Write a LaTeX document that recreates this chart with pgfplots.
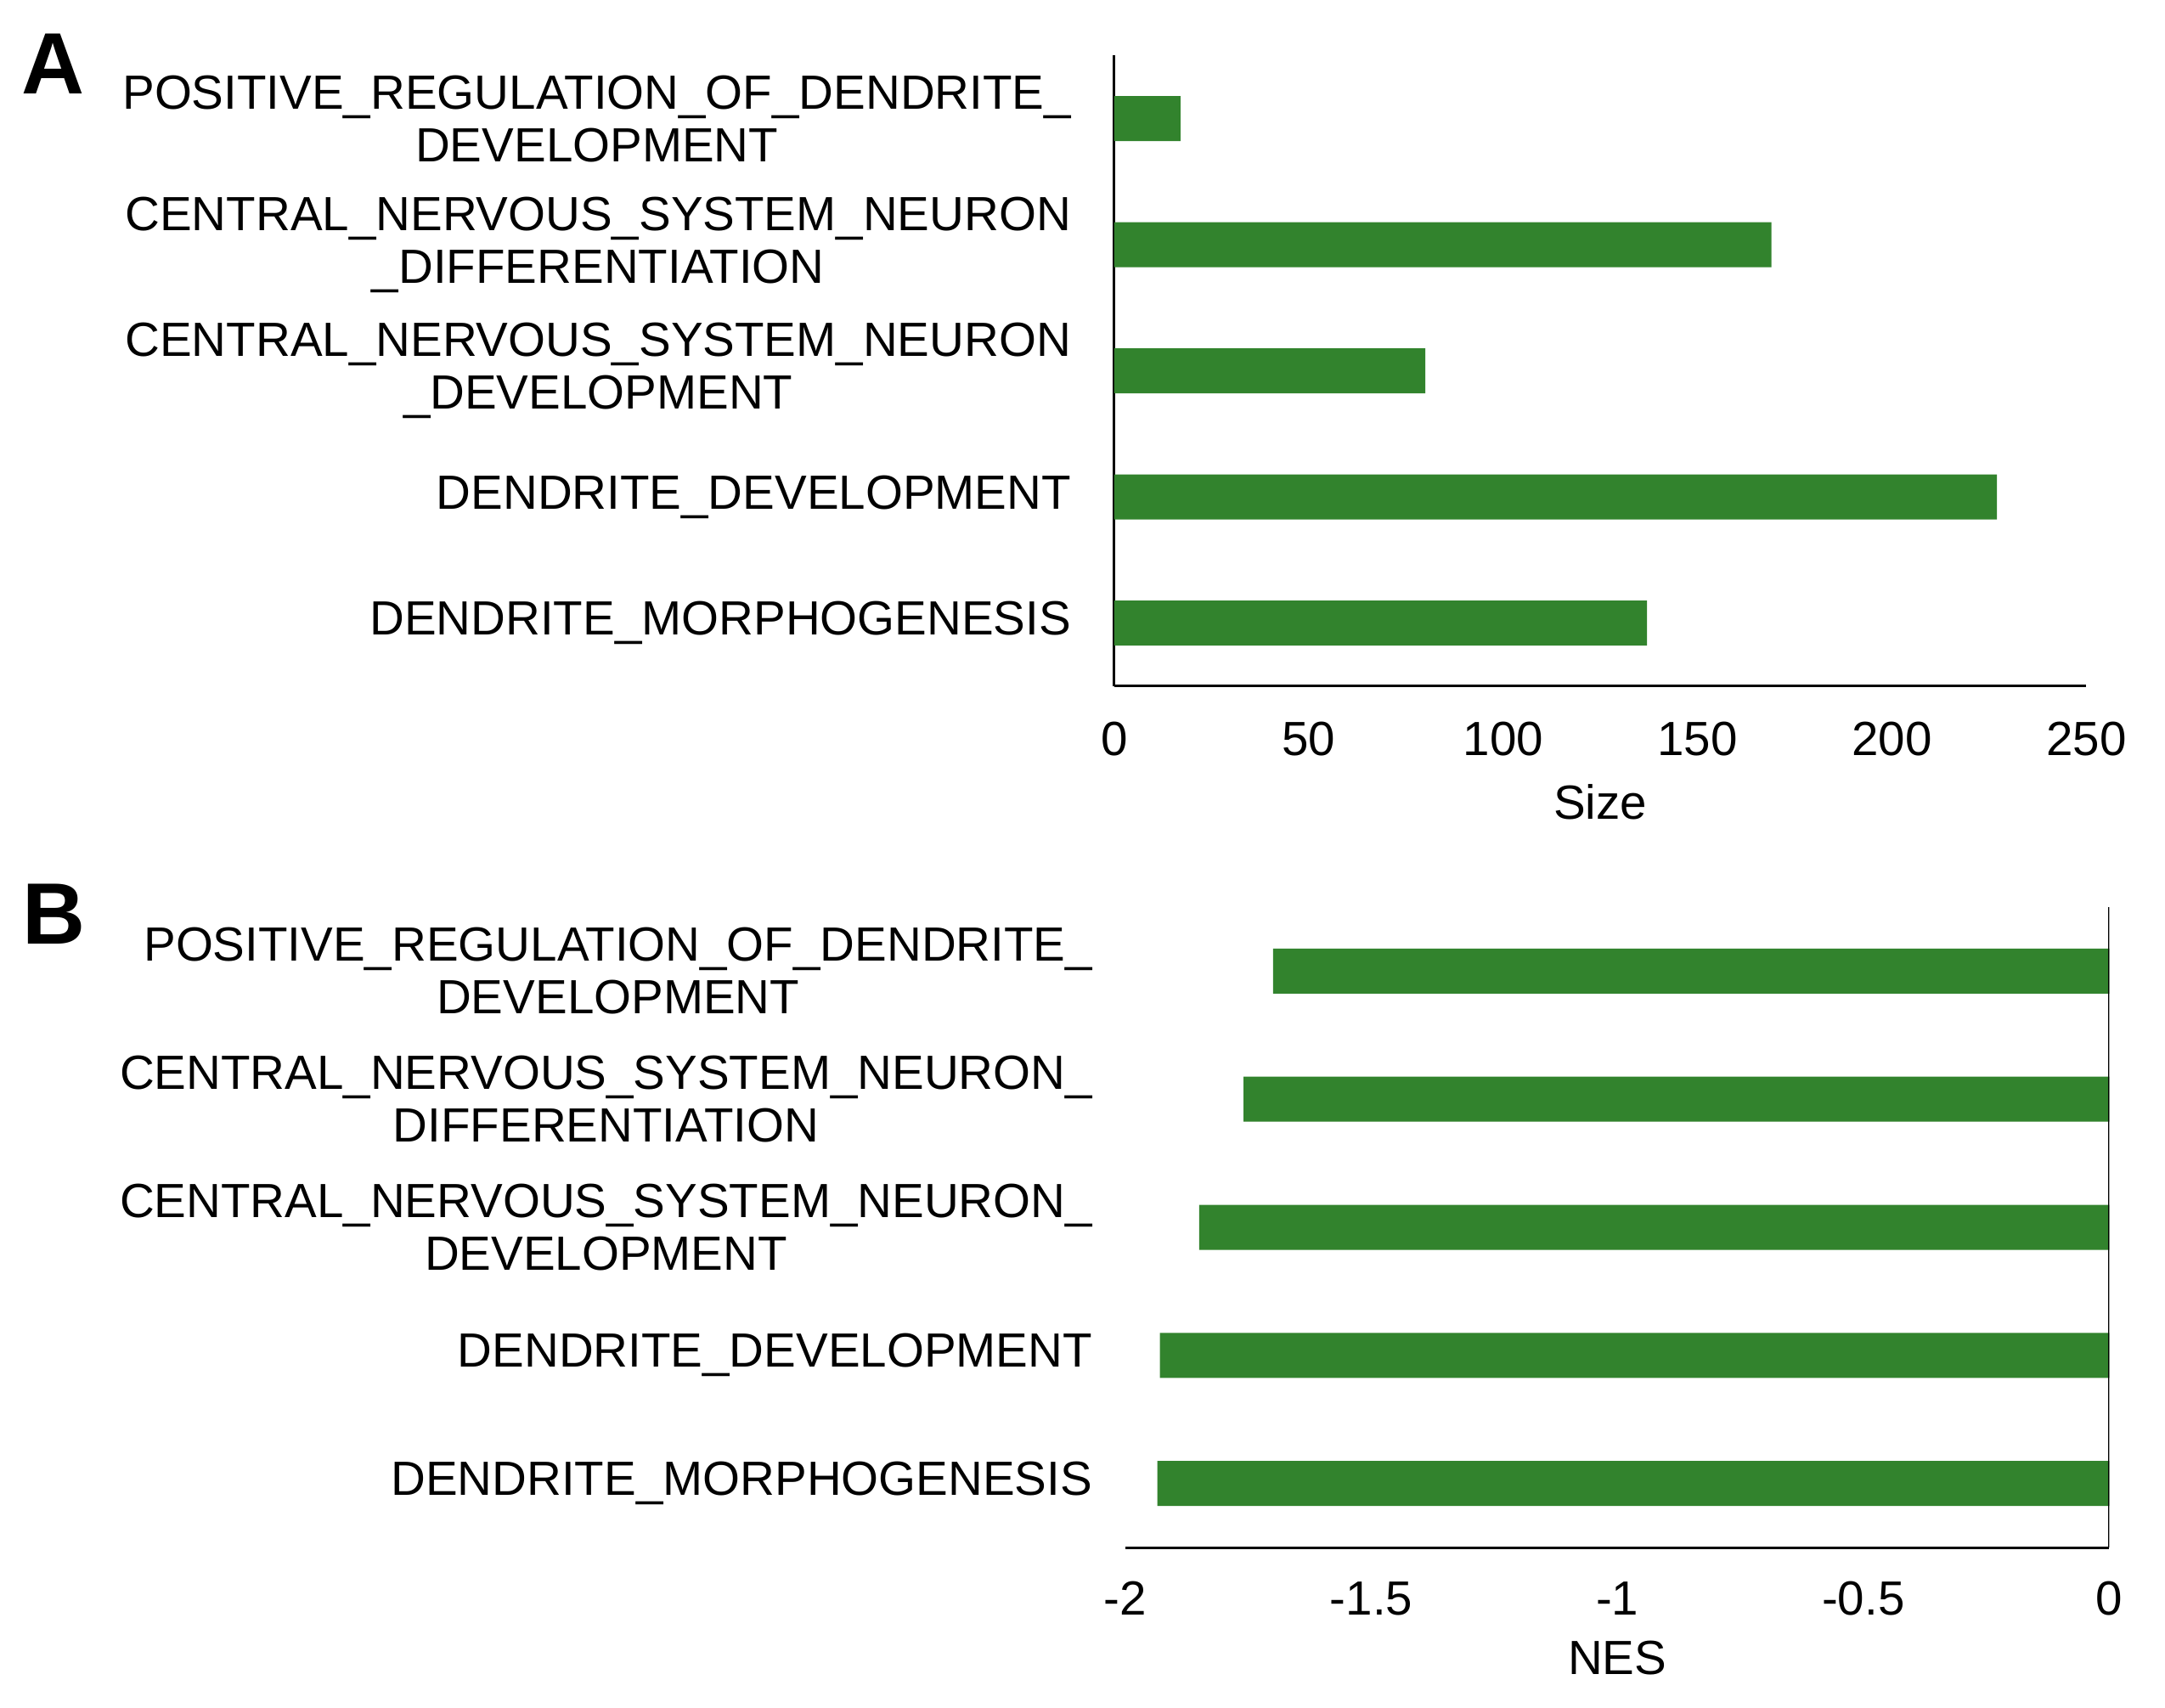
\documentclass[border=0pt]{standalone}
\usepackage{pgfplots}
\pgfplotsset{compat=1.18}
\usepackage{fontspec}
\setmainfont{Liberation Sans}
\definecolor{bargreen}{RGB}{50,131,45}

\begin{document}
\begin{tikzpicture}
\path[use as bounding box] (0pt,0pt) rectangle (509.8pt,402.2pt);
\pgfplotsset{
  gsea/.style={
    scale only axis,
    xbar,
    bar width=10.6pt,
    ymin=-0.5, ymax=4.5,
    ytick={0,1,2,3,4},
    tick style={draw=none},
    axis line style={-, line width=0.6pt, black},
    ticklabel style={font=\fontsize{11.3}{12.4}\selectfont},
    xticklabel style={yshift=-5.3pt},
    label style={font=\fontsize{11.3}{12.4}\selectfont},
    xlabel style={at={(axis description cs:0.5,0)}, anchor=center, yshift=-27.3pt},
  }
}

% panel A: gene set size
\begin{axis}[gsea,
  at={(262.4pt,240.6pt)}, anchor=south west,
  width=228.9pt, height=148.5pt,
  xmin=0, xmax=250,
  xtick={0,50,100,150,200,250},
  xticklabels={0,50,100,150,200,250},
  axis x line*=bottom, axis y line*=left,
  xlabel={Size},
  xticklabel style={yshift=0.5pt},
  yticklabels={
    {DENDRITE\_MORPHOGENESIS},
    {DENDRITE\_DEVELOPMENT},
    {CENTRAL\_NERVOUS\_SYSTEM\_NEURON\\\_DEVELOPMENT},
    {CENTRAL\_NERVOUS\_SYSTEM\_NEURON\\\_DIFFERENTIATION},
    {POSITIVE\_REGULATION\_OF\_DENDRITE\_\\DEVELOPMENT}},
  yticklabel style={align=center, anchor=east, xshift=-2.4pt},
]
\addplot[fill=bargreen, draw=none] coordinates {
  (137,0) (227,1) (80,2) (169,3) (17,4)
};
\end{axis}

% panel B: NES
\begin{axis}[gsea,
  at={(265pt,37.8pt)}, anchor=south west,
  width=231.7pt, height=150.8pt,
  xmin=-2, xmax=0,
  xtick={-2,-1.5,-1,-0.5,0},
  xticklabels={-2,-1.5,-1,-0.5,0},
  axis x line*=bottom,
  y axis line style={draw=none},
  xlabel={NES},
  xlabel style={yshift=1.3pt},
  xticklabel style={yshift=0.8pt},
  yticklabels={
    {DENDRITE\_MORPHOGENESIS},
    {DENDRITE\_DEVELOPMENT},
    {CENTRAL\_NERVOUS\_SYSTEM\_NEURON\_\\DEVELOPMENT},
    {CENTRAL\_NERVOUS\_SYSTEM\_NEURON\_\\DIFFERENTIATION},
    {POSITIVE\_REGULATION\_OF\_DENDRITE\_\\DEVELOPMENT}},
  yticklabel style={align=center, anchor=east, xshift=0pt},
]
\addplot[fill=bargreen, draw=none] coordinates {
  (-1.935,0) (-1.93,1) (-1.85,2) (-1.76,3) (-1.70,4)
};
\draw[line width=0.6pt, black] (rel axis cs:1,0) -- (rel axis cs:1,1);
\end{axis}

\node[font=\bfseries\fontsize{20.5}{24}\selectfont] at (12.5pt,387.2pt) {A};
\node[font=\bfseries\fontsize{20.5}{24}\selectfont] at (12.7pt,186.9pt) {B};
\end{tikzpicture}
\end{document}
